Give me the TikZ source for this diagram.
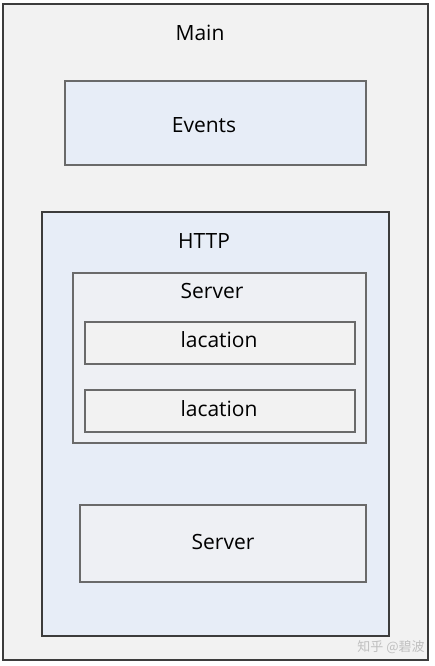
\documentclass[tikz,border=0pt]{standalone}
\usepackage{fontspec}
\setmainfont{Open Sans}
\newfontfamily\cjk{Noto Sans CJK SC}
\definecolor{bgmain}{HTML}{F2F2F2}
\definecolor{bgblue}{HTML}{E7EDF7}
\definecolor{bginner}{HTML}{EEF0F4}
\definecolor{edgedark}{HTML}{3C3C3C}
\definecolor{edgegrey}{HTML}{6A6A6A}
\begin{document}
\begin{tikzpicture}[x=1pt,y=-1pt,
  box/.style={draw=edgegrey,line width=1.3pt},
  lbl/.style={font=\fontsize{21}{24}\selectfont,text=black,inner sep=0pt}]
\useasboundingbox (0,0) rectangle (434,666);
\draw[draw=edgedark,line width=1.3pt,fill=bgmain] (3,4) rectangle (428,660);
\node[lbl] (main) at (200,33) {Main};
\draw[box,fill=bgblue] (65,81) rectangle (366,165);
\node[lbl] (events) at (204,125) {Events};
\draw[draw=edgedark,line width=1.3pt,fill=bgblue] (42,212) rectangle (389,636);
\node[lbl] (http) at (204,241) {HTTP};
\draw[draw=edgegrey,line width=1.3pt,fill=bginner] (73,273) rectangle (366,443);
\node[lbl] (server1) at (212,291) {Server};
\draw[box,fill=bgmain] (85,322) rectangle (355,364);
\node[lbl] (loc1) at (219,340) {lacation};
\draw[box,fill=bgmain] (85,390) rectangle (355,432);
\node[lbl] (loc2) at (219,409) {lacation};
\draw[box,fill=bginner] (80,505) rectangle (366,582);
\node[lbl] (server2) at (223,542) {Server};
\node[font=\cjk\fontsize{13}{15}\selectfont,text=black!25,inner sep=0pt] (wm) at (391,647) {知乎 @碧波};
\end{tikzpicture}
\end{document}
